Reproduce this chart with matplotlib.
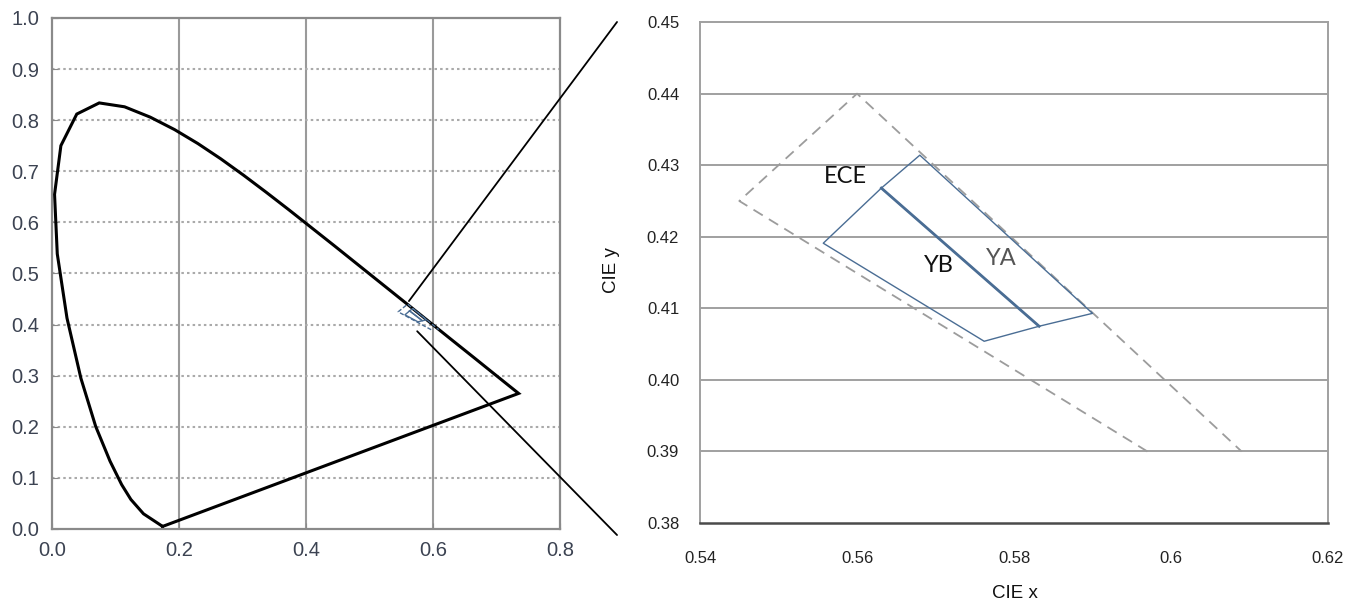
import matplotlib
matplotlib.use("Agg")
import matplotlib.pyplot as plt
from matplotlib.patches import ConnectionPatch

# CIE 1931 spectral locus (selected wavelengths), closed by the purple line
locus_x = [0.1741, 0.1440, 0.1241, 0.1096, 0.0913, 0.0687, 0.0454, 0.0235, 0.0082,
           0.0039, 0.0139, 0.0389, 0.0743, 0.1142, 0.1547, 0.1929, 0.2296, 0.2658,
           0.3016, 0.3373, 0.3731, 0.4441, 0.5125, 0.5752, 0.6270, 0.6658, 0.6915,
           0.7190, 0.7347, 0.1741]
locus_y = [0.0050, 0.0297, 0.0578, 0.0868, 0.1327, 0.2007, 0.2950, 0.4127, 0.5384,
           0.6548, 0.7502, 0.8120, 0.8338, 0.8262, 0.8059, 0.7816, 0.7543, 0.7243,
           0.6923, 0.6589, 0.6245, 0.5547, 0.4866, 0.4242, 0.3725, 0.3340, 0.3083,
           0.2809, 0.2653, 0.0050]

# ECE amber boundary (dashed, open at the bottom)
ece_x = [0.597, 0.545, 0.560, 0.609]
ece_y = [0.390, 0.425, 0.440, 0.390]

# YA / YB regions
ya_x = [0.5631, 0.5680, 0.5900, 0.5832, 0.5631]
ya_y = [0.4268, 0.4314, 0.4093, 0.4075, 0.4268]
yb_x = [0.5631, 0.5832, 0.5762, 0.5557, 0.5631]
yb_y = [0.4268, 0.4075, 0.4054, 0.4191, 0.4268]

left_ticks_x = [0.0, 0.2, 0.4, 0.6, 0.8]
left_ticks_y = [0.0, 0.1, 0.2, 0.3, 0.4, 0.5, 0.6, 0.7, 0.8, 0.9, 1.0]
right_ticks_x = [0.54, 0.56, 0.58, 0.60, 0.62]
right_xlabels = ['0.54', '0.56', '0.58', '0.6', '0.62']
right_ticks_y = [0.38, 0.39, 0.40, 0.41, 0.42, 0.43, 0.44, 0.45]
right_ylabels = ['0.38', '0.39', '0.40', '0.41', '0.42', '0.43', '0.44', '0.45']

blue = '#4a6d94'
narrow = ['Liberation Sans Narrow', 'Liberation Sans', 'DejaVu Sans']
arial = ['Liberation Sans', 'DejaVu Sans']
calib = ['Lato', 'DejaVu Sans']

fig = plt.figure(figsize=(13.63, 6.04), dpi=100)

# ---- left: full chromaticity diagram
ax1 = fig.add_axes([0.0382, 0.1242, 0.3727, 0.846])
ax1.plot(locus_x, locus_y, color='black', lw=2.2, solid_joinstyle='miter')
ax1.plot(ece_x, ece_y, color=blue, lw=1.0, ls=(0, (3, 1.5)))
ax1.plot(ya_x, ya_y, color=blue, lw=1.0)
ax1.plot(yb_x, yb_y, color=blue, lw=1.0)
ax1.set_xlim(0, 0.8)
ax1.set_ylim(0, 1.0)
ax1.set_xticks(left_ticks_x)
ax1.set_yticks(left_ticks_y)
ax1.set_xticklabels([f'{v:.1f}' for v in left_ticks_x], family=arial)
ax1.set_yticklabels([f'{v:.1f}' for v in left_ticks_y], family=arial)
for v in left_ticks_x[1:-1]:
    ax1.axvline(v, color='#9a9a9a', lw=1.5, zorder=0)
for v in left_ticks_y[1:-1]:
    ax1.axhline(v, color='#aaaaaa', lw=1.5, ls=(0, (1.2, 1.5)), zorder=0)
for s in ax1.spines.values():
    s.set_color('#8a8a8a')
    s.set_linewidth(1.6)
ax1.tick_params(direction='in', length=4, color='#8a8a8a', labelsize=14.5,
                labelcolor='#3c4352')
ax1.tick_params(axis='x', pad=9)
ax1.tick_params(axis='y', pad=9)

# ---- right: zoomed region
ax2 = fig.add_axes([0.5136, 0.134, 0.4607, 0.8295])
ax2.plot(ece_x, ece_y, color='#9c9c9c', lw=1.3, ls=(0, (6, 4)))
ax2.plot(ya_x, ya_y, color=blue, lw=1.0)
ax2.plot(yb_x, yb_y, color=blue, lw=1.0)
ax2.plot(yb_x[:2], yb_y[:2], color=blue, lw=2.0)
ax2.set_xlim(0.54, 0.62)
ax2.set_ylim(0.38, 0.45)
ax2.set_xticks(right_ticks_x)
ax2.set_xticklabels(right_xlabels, family=narrow)
ax2.set_yticks(right_ticks_y)
ax2.set_yticklabels(right_ylabels, family=narrow)
for v in right_ticks_y[1:-1]:
    ax2.axhline(v, color='#a0a0a0', lw=1.4, zorder=0)
for s in ax2.spines.values():
    s.set_color('#a0a0a0')
    s.set_linewidth(1.4)
ax2.spines['bottom'].set_color('#4a4a4a')
ax2.spines['bottom'].set_linewidth(1.8)
ax2.tick_params(length=0, labelsize=12, labelcolor='#222222')
ax2.tick_params(axis='x', pad=20)
ax2.tick_params(axis='y', pad=15)
ax2.set_xlabel('CIE x', fontsize=13.5, family=narrow, color='#111111')
ax2.set_ylabel('CIE y', fontsize=13.5, family=narrow, color='#111111')
ax2.xaxis.set_label_coords(0.502, -0.124)
ax2.yaxis.set_label_coords(-0.127, 0.505)

ax2.text(0.5585, 0.4284, 'ECE', fontsize=17, family=calib,
         color='#111111', ha='center', va='center')
ax2.text(0.5704, 0.4160, 'YB', fontsize=17, family=calib,
         color='#111111', ha='center', va='center')
ax2.text(0.5784, 0.4170, 'YA', fontsize=17, family=calib,
         color='#555555', ha='center', va='center')

# ---- callout lines from the small region to the zoomed panel
for (xa, ya), (xb, yb) in [((0.562, 0.446), (0.4527, 0.9636)),
                           ((0.575, 0.387), (0.4527, 0.1142))]:
    con = ConnectionPatch(xyA=(xa, ya), coordsA=ax1.transData,
                          xyB=(xb, yb), coordsB=fig.transFigure,
                          color='black', lw=1.3)
    fig.add_artist(con)

fig.savefig('out.png', dpi=100)
